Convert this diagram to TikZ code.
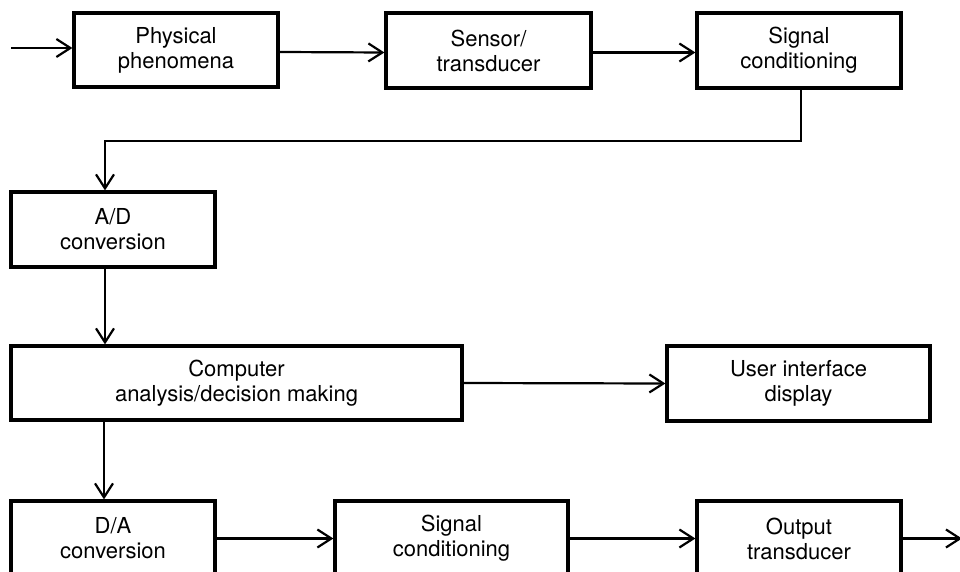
\documentclass[tikz,border=0pt]{standalone}
\usepackage{fontspec}
\setmainfont{TeX Gyre Heros}
\usetikzlibrary{arrows.meta}
\begin{document}
\begin{tikzpicture}[x=1pt,y=-1pt,
  blk/.style={draw,line width=3.2pt,rectangle,align=center,inner sep=0pt,
    font=\fontsize{22pt}{25pt}\selectfont},
  arr/.style={line width=2.2pt,-{Straight Barb[length=14pt,width=18pt,line width=2.2pt]}}]
\useasboundingbox (0,0) rectangle (960,572);
\clip (0,0) rectangle (960,572);
\fill[white] (0,0) rectangle (960,572);
\node[blk,minimum width=204pt,minimum height=74pt] (phys) at (176,50) {Physical\\phenomena};
\node[blk,minimum width=205pt,minimum height=75pt] (sens) at (488.5,50.5) {Sensor/\\transducer};
\node[blk,minimum width=204pt,minimum height=75pt] (sig1) at (799,50.5) {Signal\\conditioning};
\node[blk,minimum width=204pt,minimum height=75pt] (ad) at (113,229.5) {A/D\\conversion};
\node[blk,minimum width=451pt,minimum height=74pt] (comp) at (236.5,383) {Computer\\analysis/decision making};
\node[blk,minimum width=263pt,minimum height=75pt] (ui) at (798.5,383.5) {User interface\\display};
\node[blk,minimum width=204pt,minimum height=75pt] (da) at (113,538.5) {D/A\\conversion};
\node[blk,minimum width=233pt,minimum height=75pt] (sig2) at (451.5,538.5) {Signal\\conditioning};
\node[blk,minimum width=204pt,minimum height=75pt] (out) at (799,538.5) {Output\\transducer};
\coordinate (in) at (11,48);
\coordinate (outend) at (962,538.5);
\coordinate (bend) at (105,141);
\draw[arr] (in) -- (in -| phys.west);
\draw[arr] ([yshift=-2pt]phys.east) -- ([yshift=-2pt]sens.west);
\draw[arr] ([yshift=-2pt]sens.east) -- ([yshift=-2pt]sig1.west);
\draw[arr] ([xshift=2pt]sig1.south) |- (bend) -- ([xshift=-8pt]ad.north);
\draw[arr] ([xshift=-8pt]ad.south) -- ([xshift=-8pt]ad.south |- comp.north);
\draw[arr] (comp.east) -- (ui.west);
\draw[arr] ([xshift=-9pt]da.north |- comp.south) -- ([xshift=-9pt]da.north);
\draw[arr] (da.east) -- (sig2.west);
\draw[arr] (sig2.east) -- (out.west);
\draw[arr] (out.east) -- (outend);
\end{tikzpicture}
\end{document}
